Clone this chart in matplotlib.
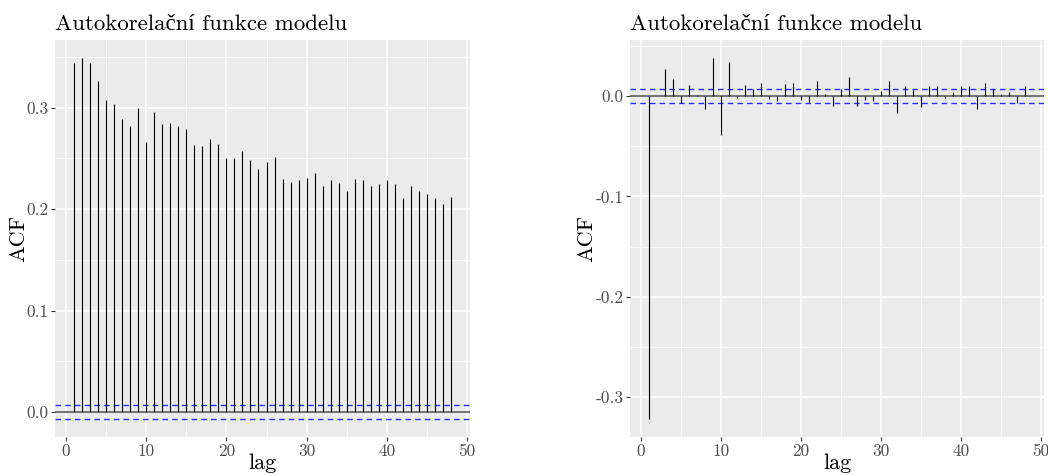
import numpy as np
import matplotlib.pyplot as plt
from matplotlib.ticker import MultipleLocator

# ACF values, lags 1..48
lags = np.arange(1, 49)
acf_left = [0.344, 0.349, 0.344, 0.326, 0.308, 0.304, 0.289, 0.282, 0.300, 0.266,
            0.296, 0.284, 0.285, 0.282, 0.279, 0.263, 0.262, 0.269, 0.264, 0.250,
            0.250, 0.257, 0.248, 0.240, 0.246, 0.251, 0.230, 0.227, 0.229, 0.231,
            0.236, 0.223, 0.229, 0.226, 0.218, 0.230, 0.229, 0.223, 0.225, 0.229,
            0.225, 0.211, 0.2225, 0.2175, 0.2145, 0.2105, 0.2046, 0.2115]
acf_right = [-0.322, 0.0005, 0.0273, 0.017, -0.007, 0.0113, 0.001, -0.0133, 0.038, -0.0383,
             0.0337, -0.0023, 0.0113, 0.007, 0.0127, -0.003, -0.0047, 0.0123, 0.0133, -0.0037,
             -0.006, 0.0153, 0.002, -0.0097, 0.007, 0.0193, -0.0103, -0.004, -0.0053, 0.005,
             0.015, -0.017, 0.0103, 0.006, -0.0113, 0.01, 0.01, -0.0023, 0.004, 0.01,
             0.01, -0.0127, 0.0133, 0.0067, 0.0023, 0.004, -0.007, 0.01]
ci = 0.0069

left_yticks = [0.0, 0.1, 0.2, 0.3]
right_yticks = [-0.3, -0.2, -0.1, 0.0]
xticks = [0, 10, 20, 30, 40, 50]
title = 'Autokorelační funkce modelu'

# cmr10 has no č / í, so let them come from a lighter serif
FONT = ['cmr10', 'Liberation Serif']
plt.rcParams['font.family'] = FONT
plt.rcParams['axes.unicode_minus'] = False

fig = plt.figure(figsize=(10.48, 4.75), dpi=100)
W, H = 1048, 475


def add_panel(left, right, top, bottom):
    return fig.add_axes([left / W, 1 - bottom / H, (right - left) / W, (bottom - top) / H])


def style(ax, yticks, ylim, ylab_x):
    ax.set_facecolor('#EBEBEB')
    for s in ax.spines.values():
        s.set_visible(False)
    ax.set_xlim(-1.35, 50.35)
    ax.set_ylim(*ylim)
    ax.set_xticks(xticks)
    ax.set_xticklabels([str(t) for t in xticks])
    ax.set_yticks(yticks)
    ax.set_yticklabels(['%.1f' % t for t in yticks])
    ax.xaxis.set_minor_locator(MultipleLocator(5))
    ax.yaxis.set_minor_locator(MultipleLocator(0.05))
    ax.grid(which='major', color='white', linewidth=1.1)
    ax.grid(which='minor', color='white', linewidth=0.55)
    ax.set_axisbelow(True)
    ax.tick_params(which='major', length=3, width=0.8, color='#333333',
                   labelcolor='#4D4D4D', labelsize=12.5, pad=1.5)
    ax.tick_params(which='minor', length=0)
    ax.set_xlabel('lag', fontsize=16, va='center')
    ax.xaxis.set_label_coords(0.5, -0.066)
    ax.set_ylabel('ACF', fontsize=16, va='center')
    ax.yaxis.set_label_coords(ylab_x, 0.5)
    ax.set_title(title, loc='left', fontsize=16.5, pad=7)


def draw(ax, vals):
    ax.axhline(0, color='#4D4D4D', linewidth=1.1, zorder=2)
    ax.vlines(lags, 0, vals, color='black', linewidth=0.8, zorder=3)
    ax.axhline(ci, color='#2B2BFF', linestyle=(0, (4, 3)), linewidth=1.0, zorder=2)
    ax.axhline(-ci, color='#2B2BFF', linestyle=(0, (4, 3)), linewidth=1.0, zorder=2)


ax1 = add_panel(55, 470, 40, 437)
draw(ax1, acf_left)
lo = min(min(acf_left), -ci)
hi = max(max(acf_left), ci)
pad = 0.05 * (hi - lo)
style(ax1, left_yticks, (lo - pad, hi + pad), -0.089)

ax2 = add_panel(630, 1044, 40, 437)
draw(ax2, acf_right)
lo = min(min(acf_right), -ci)
hi = max(max(acf_right), ci)
pad = 0.05 * (hi - lo)
style(ax2, right_yticks, (lo - pad, hi + pad), -0.104)

fig.savefig('out.png', dpi=100)
